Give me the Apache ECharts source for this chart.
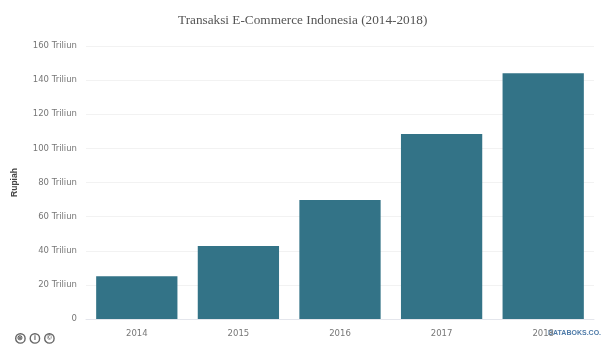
<!DOCTYPE html>
<html>
<head>
<meta charset="utf-8">
<style>html,body{margin:0;padding:0;background:#fff}#chart{width:601px;height:345px}</style>
<script src="https://cdn.jsdelivr.net/npm/echarts@6/dist/echarts.min.js"></script>
</head>
<body>
<div id="chart"></div>
<script>
const years = ['2014', '2015', '2016', '2017', '2018'];
const transactions = [25.1, 42.8, 69.8, 108.4, 144];
const axisTicks = { min: 0, max: 160, interval: 20 };
const chartTitle = 'Transaksi E-Commerce Indonesia (2014-2018)';
const valueAxisName = 'Rupiah';
const brandText = 'DATABOKS.CO.ID';
const iconGlyphs = ['\u229C', 'i', '\u00A9'];

const chart = echarts.init(document.getElementById('chart'), null, { renderer: 'canvas' });

// Three small round badges in the lower-left corner
const badges = iconGlyphs.map((glyph, i) => ({
  type: 'group',
  left: 15 + i * 14.5,
  top: 333,
  children: [
    { type: 'circle', shape: { cx: 5, cy: 5.5, r: 4.7 }, style: { fill: '#fff', stroke: '#666', lineWidth: 1.4 } },
    { type: 'text', x: 5, y: 5.5, style: { text: glyph, fill: '#555', font: 'bold 7px "Liberation Sans"', align: 'center', verticalAlign: 'middle' } }
  ]
}));

chart.setOption({
  animation: false,
  backgroundColor: '#fff',
  title: {
    text: chartTitle,
    left: 173,
    top: 9,
    textStyle: { fontFamily: '"Liberation Serif"', fontSize: 13.25, fontWeight: 'normal', color: '#555' }
  },
  grid: { left: 86, right: 7, top: 46, bottom: 26 },
  xAxis: {
    type: 'category',
    data: years,
    axisTick: { show: false },
    axisLine: { lineStyle: { color: '#e4e6ec', width: 1 } },
    axisLabel: { fontFamily: '"DejaVu Sans"', fontSize: 8.5, color: '#777', margin: 10 }
  },
  yAxis: {
    type: 'value',
    min: axisTicks.min,
    max: axisTicks.max,
    interval: axisTicks.interval,
    name: valueAxisName,
    nameLocation: 'middle',
    nameGap: 67,
    nameTextStyle: { fontFamily: '"Liberation Sans"', fontSize: 8.5, fontWeight: 'bold', color: '#444' },
    axisLine: { show: false },
    axisTick: { show: false },
    splitLine: { lineStyle: { color: '#f2f2f2', width: 1 } },
    axisLabel: {
      fontFamily: '"DejaVu Sans"',
      fontSize: 8.5,
      color: '#777',
      margin: 9,
      formatter: v => (v === 0 ? '0' : v + ' Triliun')
    }
  },
  series: [{
    type: 'bar',
    data: transactions,
    barWidth: '80%',
    itemStyle: { color: '#337387' }
  }],
  graphic: [
    ...badges,
    {
      type: 'text',
      left: 548,
      top: 330,
      style: { text: brandText, fill: '#4d7aa8', font: 'bold 7px "Liberation Sans"' }
    }
  ]
});
</script>
</body>
</html>
